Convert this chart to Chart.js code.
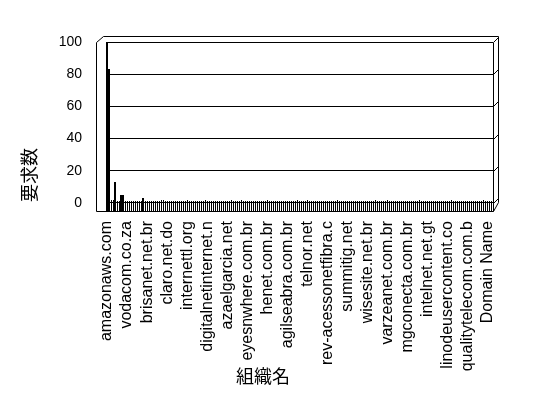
<!DOCTYPE html>
<html>
<head>
<meta charset="utf-8">
<script src="https://cdn.jsdelivr.net/npm/chart.js@4.4.0/dist/chart.umd.min.js"></script>
<style>
  html, body { margin: 0; padding: 0; background: #fff; }
  canvas { display: block; }
</style>
</head>
<body>
<canvas id="orgChart" width="548" height="398"></canvas>
<script>
// every 10th organisation name, as printed on the axis
const shownNames = [
    'amazonaws.com', 'vodacom.co.za', 'brisanet.net.br', 'claro.net.do',
    'internettl.org', 'digitalnetinternet.n', 'azaelgarcia.net', 'eyesnwhere.com.br',
    'henet.com.br', 'agilseabra.com.br', 'telnor.net', 'rev-acessonetfibra.c',
    'summitig.net', 'wisesite.net.br', 'varzeanet.com.br', 'mgconecta.com.br',
    'intelnet.net.gt', 'linodeusercontent.co', 'qualitytelecom.com.b', 'Domain Name',
];

const requestCounts = [
    100, 83, 2, 2, 13, 1, 1, 5, 5, 1,
    1, 1, 1, 1, 1, 1, 1, 1, 3, 1,
    1, 1, 1, 1, 1, 1, 1, 2, 2, 1,
    1, 1, 1, 1, 1, 1, 1, 1, 1, 1,
    2, 1, 1, 1, 1, 1, 1, 1, 1, 2,
    1, 1, 1, 1, 1, 1, 1, 1, 1, 1,
    1, 1, 2, 1, 1, 1, 1, 2, 1, 1,
    1, 1, 1, 1, 1, 1, 1, 1, 1, 1,
    2, 1, 1, 1, 1, 1, 1, 1, 1, 1,
    1, 1, 1, 1, 1, 2, 1, 1, 1, 1,
    2, 1, 1, 1, 1, 1, 1, 1, 1, 1,
    1, 1, 1, 1, 1, 2, 1, 1, 1, 1,
    1, 1, 1, 1, 1, 1, 1, 1, 1, 1,
    1, 1, 1, 1, 2, 1, 1, 1, 1, 1,
    2, 1, 1, 1, 1, 1, 1, 1, 1, 1,
    1, 1, 1, 1, 1, 1, 2, 1, 1, 1,
    1, 1, 1, 1, 1, 1, 1, 1, 1, 1,
    1, 1, 2, 1, 1, 1, 1, 1, 1, 1,
    1, 1, 1, 1, 1, 1, 1, 1, 2, 1,
    1, 1, 1,
];

const yTicks = [0, 20, 40, 60, 80, 100];
const yTitle = '要求数';
const xTitle = '組織名';

const categories = requestCounts.map((v, i) =>
    i % 10 === 0 && shownNames[i / 10] ? shownNames[i / 10] : '');

// snap the thin bars onto whole pixels so they come out solid black;
// the taller columns read a bit heavier in the original, so give them 2px
const crispBars = {
    id: 'crispBars',
    beforeDatasetsDraw(chart) {
        chart.getDatasetMeta(0).data.forEach((bar, i) => {
            const w = requestCounts[i] > 2 ? 2 : 1;
            bar.x = w === 2 ? Math.floor(bar.x) : Math.floor(bar.x) + 0.5;
            bar.width = w;
            bar.y = Math.round(bar.y);
            bar.base = Math.round(bar.base);
        });
    },
};

// old style 3d box round the plot, plus the two axis titles
const frame3d = {
    id: 'frame3d',
    afterDraw(chart) {
        const { ctx, chartArea: a, scales } = chart;
        const L = a.left + 0.5, R = a.right + 0.5, T = a.top + 0.5, B = a.bottom + 0.5;
        const y0 = Math.round(scales.y.getPixelForValue(0)) + 0.5;
        ctx.save();
        ctx.strokeStyle = '#000';
        ctx.lineWidth = 1;
        ctx.beginPath();
        ctx.moveTo(L - 10, B);
        ctx.lineTo(L - 10, T);
        ctx.lineTo(L - 3, T - 6);
        ctx.lineTo(R + 5, T - 6);
        ctx.lineTo(R + 5, y0 - 1);
        ctx.lineTo(R, B);
        ctx.lineTo(L - 10, B);
        ctx.moveTo(L, T);
        ctx.lineTo(L, y0);
        ctx.moveTo(R, T);
        ctx.lineTo(R, B);
        yTicks.forEach((v) => {
            const y = Math.round(scales.y.getPixelForValue(v)) + 0.5;
            ctx.moveTo(R, y);
            ctx.lineTo(R + 5, y - 5);
        });
        ctx.stroke();

        ctx.fillStyle = '#000';
        ctx.font = '18px "Noto Sans CJK JP"';
        ctx.textAlign = 'center';
        ctx.textBaseline = 'middle';
        ctx.fillText(xTitle, 263, 376);
        ctx.translate(29, 175);
        ctx.rotate(-Math.PI / 2);
        ctx.fillText(yTitle, 0, 0);
        ctx.restore();
    },
};

document.addEventListener('DOMContentLoaded', () => {
    const ctx = document.getElementById('orgChart').getContext('2d');

    new Chart(ctx, {
        type: 'bar',
        data: {
            labels: categories,
            datasets: [
                {
                    data: requestCounts,
                    base: -5,
                    backgroundColor: '#000',
                    borderWidth: 0,
                    barPercentage: 1,
                    categoryPercentage: 0.55,
                },
            ],
        },
        options: {
            responsive: false,
            animation: false,
            devicePixelRatio: 1,
            layout: { padding: { left: 0, top: 42, right: 55, bottom: 0 } },
            plugins: {
                legend: { display: false },
                tooltip: { enabled: false },
            },
            scales: {
                x: {
                    grid: { display: false, drawTicks: false },
                    border: { display: false },
                    ticks: {
                        autoSkip: false,
                        maxRotation: 90,
                        minRotation: 90,
                        padding: 10,
                        color: '#000',
                        font: { family: '"Liberation Sans", Arial, sans-serif', size: 16 },
                        callback: (v, i) => categories[i],
                    },
                    afterFit: (scale) => { scale.height = 398 - 211; },
                },
                y: {
                    min: -5,
                    max: 100,
                    afterBuildTicks: (scale) => {
                        scale.ticks = yTicks.map((v) => ({ value: v }));
                    },
                    grid: { color: '#000', lineWidth: 1, drawTicks: false },
                    border: { display: false },
                    ticks: {
                        padding: 24,
                        color: '#000',
                        font: { family: '"Liberation Sans", Arial, sans-serif', size: 14 },
                    },
                    afterFit: (scale) => { scale.width = 106; },
                },
            },
        },
        plugins: [crispBars, frame3d],
    });
});
</script>
</body>
</html>
